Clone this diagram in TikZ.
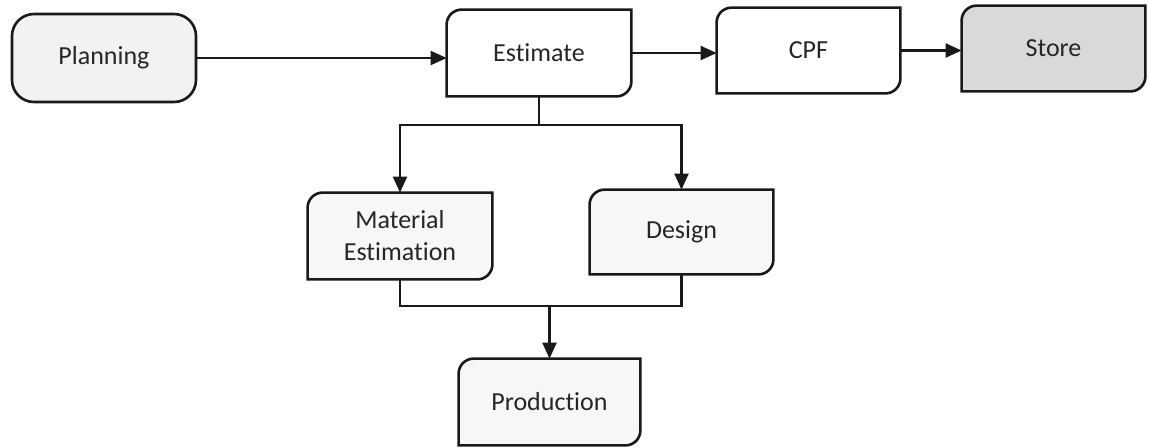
\documentclass[tikz,border=0pt]{standalone}
\usepackage{fontspec}
\setmainfont{Carlito}[Ligatures={CommonOff}]
\usetikzlibrary{calc,arrows.meta,backgrounds}

\tikzset{
  boxline/.style={draw=black!90, line width=1.3pt},
  textbox/.style={inner sep=0pt, font=\fontsize{13}{15}\selectfont, align=center, text=black!85},
  flow/.style={draw=black!90, line width=1.1pt},
  flowarrow/.style={flow, -{Triangle[length=8pt,width=7pt]}},
}

% Box with rounded top-left and bottom-right corners, drawn behind node #1
\newcommand\leafbox[3]{%
  \path[boxline, fill=#3]
    (#1.south west) -- ($(#1.north west)+(0,-#2)$)
    arc[start angle=180, end angle=90, radius=#2]
    -- (#1.north east) -- ($(#1.south east)+(0,#2)$)
    arc[start angle=0, end angle=-90, radius=#2]
    -- cycle;}

\begin{document}
\begin{tikzpicture}[x=0.5pt, y=-0.5pt]
  \useasboundingbox (0,0) rectangle (1150,447);

  % text nodes, sized like their frames
  \node[textbox, minimum width=92pt, minimum height=44pt,
        boxline, rounded corners=11pt, fill=gray!10] (planning) at (104,58) {Planning};
  \node[textbox, minimum width=92pt, minimum height=43pt] (estimate) at (539,53) {Estimate};
  \node[textbox, minimum width=91.5pt, minimum height=42.5pt] (cpf) at (808.5,50.5) {CPF};
  \node[textbox, minimum width=91.5pt, minimum height=42.5pt] (store) at (1053.5,48.5) {Store};
  \node[textbox, minimum width=92pt, minimum height=43pt] (material) at (400,236) {Material\\[1pt]Estimation};
  \node[textbox, minimum width=91.5pt, minimum height=42pt] (design) at (681.5,232) {Design};
  \node[textbox, minimum width=90.5pt, minimum height=43pt] (production) at (549.5,402) {Production};

  % frames behind the text
  \begin{scope}[on background layer]
    \leafbox{estimate}{7.5pt}{white}
    \leafbox{cpf}{7.5pt}{white}
    \leafbox{store}{7.5pt}{gray!30}
    \leafbox{material}{7.5pt}{gray!6}
    \leafbox{design}{7.5pt}{gray!6}
    \leafbox{production}{7.5pt}{gray!6}
  \end{scope}

  % top row
  \draw[flowarrow] (planning.east) -- (planning.east -| estimate.west);
  \draw[flowarrow] (estimate.east) -- (estimate.east -| cpf.west);
  \draw[flowarrow] (cpf.east) -- (cpf.east -| store.west);

  % split below Estimate
  \coordinate (split) at (539,125);
  \draw[flow] (estimate.south) -- (split);
  \draw[flowarrow] (split) -| (material.north);
  \draw[flowarrow] (split) -| (design.north);

  % merge into Production
  \coordinate (join) at (549.5,306);
  \draw[flow] (material.south) |- (join);
  \draw[flow] (design.south) |- (join);
  \draw[flowarrow] (join) -- (production.north);
\end{tikzpicture}
\end{document}
